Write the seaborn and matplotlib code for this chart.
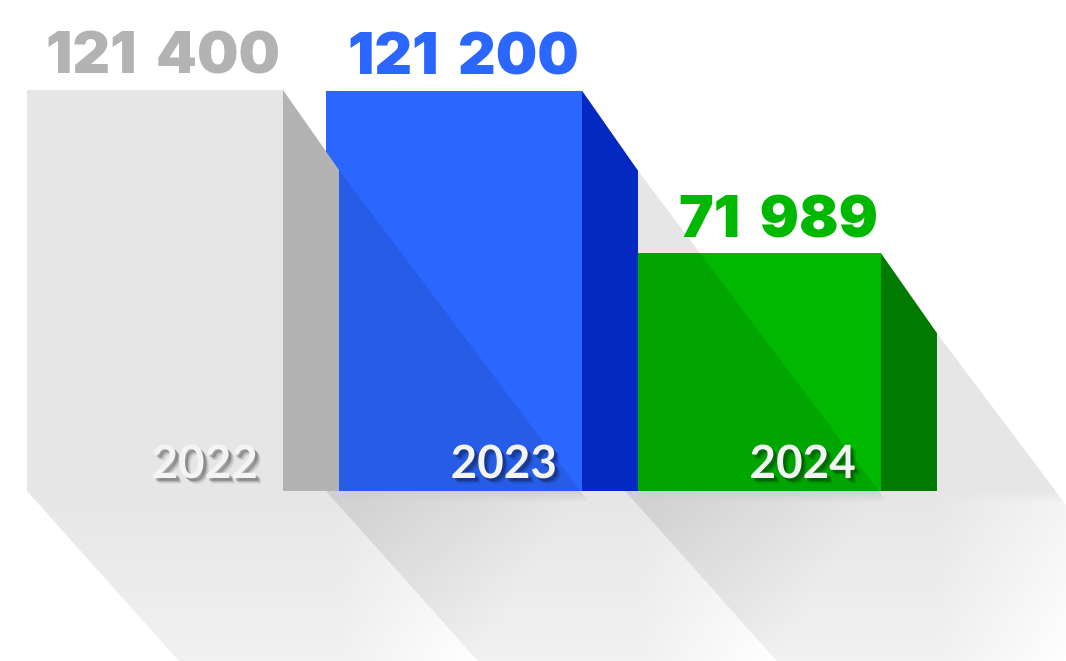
import numpy as np
import pandas as pd
import matplotlib
matplotlib.use("Agg")
import matplotlib.pyplot as plt
import matplotlib.patheffects as pe
from matplotlib.patches import Polygon
import seaborn as sns

# ---------------- data ----------------
years = ["2022", "2023", "2024"]
values = [121400, 121200, 71989]
value_labels = ["121 400", "121 200", "71 989"]
front_colors = ["#E6E6E6", "#2B66FF", "#00B800"]
side_colors = ["#B3B3B3", "#0329C2", "#007A00"]
label_colors = ["#B3B3B3", "#2B66FF", "#00B800"]

# ---------------- style / layout ----------------
sns.set_theme(style="white")
plt.rcParams["font.family"] = ["Inter", "DejaVu Sans"]

W_PX, H_PX = 1066, 661
fig = plt.figure(figsize=(W_PX / 100, H_PX / 100), dpi=100)
ax = fig.add_axes([0, 0, 1, 1])

df = pd.DataFrame({"year": years, "value": values})
sns.barplot(data=df, x="year", y="value", hue="year", palette=front_colors,
            saturation=1, width=0.856, legend=False, errorbar=None,
            linewidth=0, ax=ax)
XLIM = (-0.5184, 3.0468)
YLIM = (-51466, 148646)
ax.set_xlim(*XLIM)
ax.set_ylim(*YLIM)
ax.axis("off")
fig.canvas.draw()

T = ax.transData
TI = ax.transData.inverted()


def to_px(x, y):
    d = T.transform((x, y))
    return d[0], H_PX - d[1]


def to_data(px, py):
    return TI.transform((px, H_PX - py))


SIDE_DX = 56      # depth of the side face (px)
SIDE_DROP = 80    # drop of the side face top edge (px)
S1 = 1.33         # slope of the long shadow (top edge)
S2 = 1.12         # slope of the ground shadow (left edge)
A0 = 0.10
HF, WF, RAMP = 400.0, 250.0, 12.0

bars = sorted(ax.patches, key=lambda p: p.get_x())
n = len(bars)

yy, xx = np.mgrid[0:H_PX, 0:W_PX] + 0.5

for i, bar in enumerate(bars):
    zbase = 2 * (n - i)           # earlier bars sit on top of later ones
    L = bar.get_x()
    R = L + bar.get_width()
    top = bar.get_height()
    Lp, Bp = to_px(L, 0)
    Rp, Tp = to_px(R, top)

    # front face
    bar.set_zorder(zbase + 1)

    # side face
    side_px = [(Rp, Bp), (Rp, Tp), (Rp + SIDE_DX, Tp + SIDE_DROP), (Rp + SIDE_DX, Bp)]
    side = Polygon([to_data(*p) for p in side_px], closed=True,
                   facecolor=side_colors[i], edgecolor="none", zorder=zbase + 1.1)
    ax.add_patch(side)

    # long shadow
    Yf = H_PX + 400
    sx, sy = Rp + SIDE_DX, Tp + SIDE_DROP
    sh_px = [(Lp, Bp), (Lp, Tp), (Rp, Tp), (sx, sy),
             (sx + (Yf - sy) / S1, Yf), (Lp + (Yf - Bp) / S2, Yf)]
    clip = Polygon([to_data(*p) for p in sh_px], closed=True,
                   transform=ax.transData, facecolor="none", edgecolor="none")
    dy = yy - Bp
    ramp = np.clip(dy / RAMP, 0, 1)
    dxe = np.clip(xx - sx, 0, None)
    f = np.where(dy <= 0, 1.0, np.clip(1 - dy / HF - ramp * dxe / WF, 0, 1))
    img = np.zeros((H_PX, W_PX, 4))
    img[..., 3] = A0 * f
    im = ax.imshow(img, extent=(XLIM[0], XLIM[1], YLIM[0], YLIM[1]),
                   origin="upper", aspect="auto", interpolation="nearest",
                   zorder=zbase)
    im.set_clip_path(clip)

    # value label above the bar
    vx, vy = to_data(Rp - 3, Tp - 16)
    ax.text(vx, vy, value_labels[i].replace(" ", "\u2004"), ha="right", va="baseline",
            fontsize=42, fontweight="black", color=label_colors[i], zorder=20)

    # year label inside the bar
    yx, yy_ = to_data(Rp - 25, Bp - 13)
    ax.text(yx, yy_, years[i], ha="right", va="baseline", fontsize=33,
            fontweight="bold", color="#F4F4F4", zorder=20,
            family=["Lato", "DejaVu Sans"],
            path_effects=[
                pe.SimplePatchShadow(offset=(4.0, -4.0), shadow_rgbFace="black", alpha=0.08),
                pe.SimplePatchShadow(offset=(3.0, -3.0), shadow_rgbFace="black", alpha=0.15),
                pe.SimplePatchShadow(offset=(2.0, -2.0), shadow_rgbFace="black", alpha=0.22),
                pe.Normal()])

ax.set_xlim(*XLIM)
ax.set_ylim(*YLIM)
fig.savefig("out.png", dpi=100, facecolor="white")
